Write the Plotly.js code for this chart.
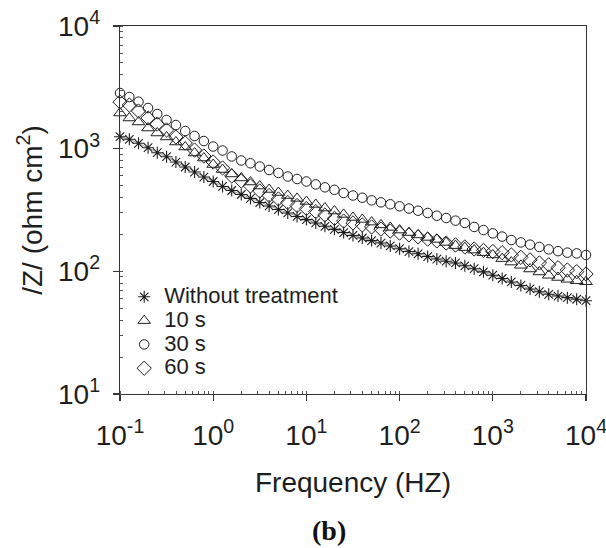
<!DOCTYPE html>
<html>
<head>
<meta charset="utf-8">
<script src="https://cdn.plot.ly/plotly-3.0.1.min.js"></script>
<style>
  html, body { margin: 0; padding: 0; background: #fff; }
  #chart { width: 606px; height: 548px; }
</style>
</head>
<body>
<div id="chart"></div>
<script>
// Frequency (Hz), 10 points per decade
const frequency = [
  0.1, 0.126, 0.158, 0.2, 0.251, 0.316, 0.398, 0.501, 0.631, 0.794,
  1, 1.26, 1.58, 2, 2.51, 3.16, 3.98, 5.01, 6.31, 7.94,
  10, 12.6, 15.8, 20, 25.1, 31.6, 39.8, 50.1, 63.1, 79.4,
  100, 126, 158, 200, 251, 316, 398, 501, 631, 794,
  1000, 1260, 1580, 2000, 2510, 3160, 3980, 5010, 6310, 7940, 10000
];

// |Z| (ohm cm^2)
const zWithout = [
  1252, 1192, 1106, 1018, 927, 860, 778, 709, 645, 587,
  540, 492, 456, 423, 393, 364, 341, 319, 299, 280,
  264, 248, 233, 220, 207, 196, 187, 178, 170, 161,
  153, 145, 139, 132, 126, 121, 117, 111, 105, 99,
  93, 87.4, 81.9, 76.7, 71.8, 68.2, 65.0, 62.9, 61.0, 59.2, 57.6
];
const z10s = [
  1953, 1778, 1650, 1474, 1342, 1245, 1133, 1032, 922, 839,
  743, 676, 622, 577, 535, 496, 465, 439, 415, 393,
  371, 351, 328, 310, 291, 275, 265, 252, 239, 228,
  217, 207, 198, 189, 182, 172, 162, 156, 149, 142,
  136, 127, 119, 112, 104.5, 98.8, 92.8, 89.1, 86.1, 83.9, 82.3
];
const z30s = [
  2843, 2638, 2415, 2146, 1917, 1713, 1559, 1393, 1269, 1155,
  1041, 966, 864, 801, 760, 715, 670, 634, 593, 566,
  540, 511, 484, 462, 435, 415, 398, 379, 365, 352,
  339, 325, 312, 299, 284, 272, 259, 248, 230, 217,
  204, 192, 180, 172, 165, 158, 151, 146, 142, 140, 136
];
const z60s = [
  2401, 2270, 2028, 1778, 1589, 1420, 1245, 1112, 975, 871,
  778, 696, 599, 545, 496, 452, 415, 389, 364, 344,
  325, 307, 288, 270, 257, 248, 239, 230, 221, 213,
  205, 198, 191, 183, 177, 170, 164, 158, 152, 148,
  145, 142, 136, 130, 124, 117, 113, 107, 102.5, 99.3, 95.1
];

const seriesNames = ['Without treatment', '10 s', '30 s', '60 s'];

const xTickVals = [0.1, 1, 10, 100, 1000, 10000];
const xTickText = ['10<sup>-1</sup>', '10<sup>0</sup>', '10<sup>1</sup>', '10<sup>2</sup>', '10<sup>3</sup>', '10<sup>4</sup>'];
const yTickVals = [10, 100, 1000, 10000];
const yTickText = ['10<sup>1</sup>', '10<sup>2</sup>', '10<sup>3</sup>', '10<sup>4</sup>'];

const ink = '#1e1e1e';
const legendLabel = (s) => '<span style="font-size:22px">' + s + '</span>';

const traces = [
  {
    // faint connecting line under the asterisks
    x: frequency, y: zWithout, name: seriesNames[0] + ' line',
    mode: 'lines', type: 'scatter', cliponaxis: false, showlegend: false,
    line: { color: '#a0a0a0', width: 1 }
  },
  {
    x: frequency, y: zWithout, name: legendLabel(seriesNames[0]),
    mode: 'markers', type: 'scatter', cliponaxis: false,
    marker: { symbol: 'asterisk-open', size: 10, color: ink, line: { color: ink, width: 1.1 } }
  },
  {
    x: frequency, y: z10s, name: legendLabel(seriesNames[1]),
    mode: 'markers', type: 'scatter', cliponaxis: false,
    marker: { symbol: 'triangle-up-open', size: 11, color: ink, line: { color: ink, width: 1 } }
  },
  {
    x: frequency, y: z30s, name: legendLabel(seriesNames[2]),
    mode: 'markers', type: 'scatter', cliponaxis: false,
    marker: { symbol: 'circle-open', size: 9.5, color: ink, line: { color: ink, width: 1 } }
  },
  {
    x: frequency, y: z60s, name: legendLabel(seriesNames[3]),
    mode: 'markers', type: 'scatter', cliponaxis: false,
    marker: { symbol: 'diamond-open', size: 11, color: ink, line: { color: ink, width: 1 } }
  }
];

const axisCommon = {
  type: 'log',
  showgrid: false,
  zeroline: false,
  showline: true,
  linecolor: '#333',
  linewidth: 1.3,
  mirror: true,
  ticks: 'outside',
  ticklen: 6,
  tickwidth: 1.2,
  tickcolor: '#333',
  tickmode: 'array',
  ticklabeloverflow: 'allow',
  tickfont: { size: 28, color: ink, family: 'Liberation Sans, Arial, sans-serif' },
  minor: { ticks: 'inside', ticklen: 3, tickwidth: 1, tickcolor: '#555', dtick: 'D1', showgrid: false }
};

const layout = {
  width: 606,
  height: 548,
  margin: { l: 120, r: 20, t: 26, b: 154, pad: 0 },
  paper_bgcolor: '#fff',
  plot_bgcolor: '#fff',
  font: { family: 'Liberation Sans, Arial, sans-serif', color: ink },
  showlegend: true,
  legend: {
    x: 0.009, y: 0.31, xanchor: 'left', yanchor: 'top',
    bgcolor: 'rgba(0,0,0,0)', borderwidth: 0,
    font: { size: 16, color: ink, family: 'Liberation Sans, Arial, sans-serif' },
    itemwidth: 30
  },
  xaxis: Object.assign({}, axisCommon, {
    range: [-1, 4],
    tickvals: xTickVals,
    ticktext: xTickText,
    ticklabelstandoff: 10,
    title: { text: 'Frequency (HZ)', font: { size: 28, color: ink }, standoff: 22 }
  }),
  yaxis: Object.assign({}, axisCommon, {
    range: [1, 4],
    tickvals: yTickVals,
    ticktext: yTickText,
    ticklabelstandoff: 7,
    title: { text: '/Z/ (ohm cm<sup>2</sup>)', font: { size: 28, color: ink }, standoff: 7 }
  }),
  annotations: [
    {
      text: '<b>(b)</b>', xref: 'paper', yref: 'paper',
      x: 0.449, y: -0.372, xanchor: 'center', yanchor: 'middle',
      showarrow: false,
      font: { family: 'Liberation Serif, Times New Roman, serif', size: 28, color: '#111' }
    }
  ]
};

Plotly.newPlot('chart', traces, layout, { staticPlot: true, displayModeBar: false });
</script>
</body>
</html>
